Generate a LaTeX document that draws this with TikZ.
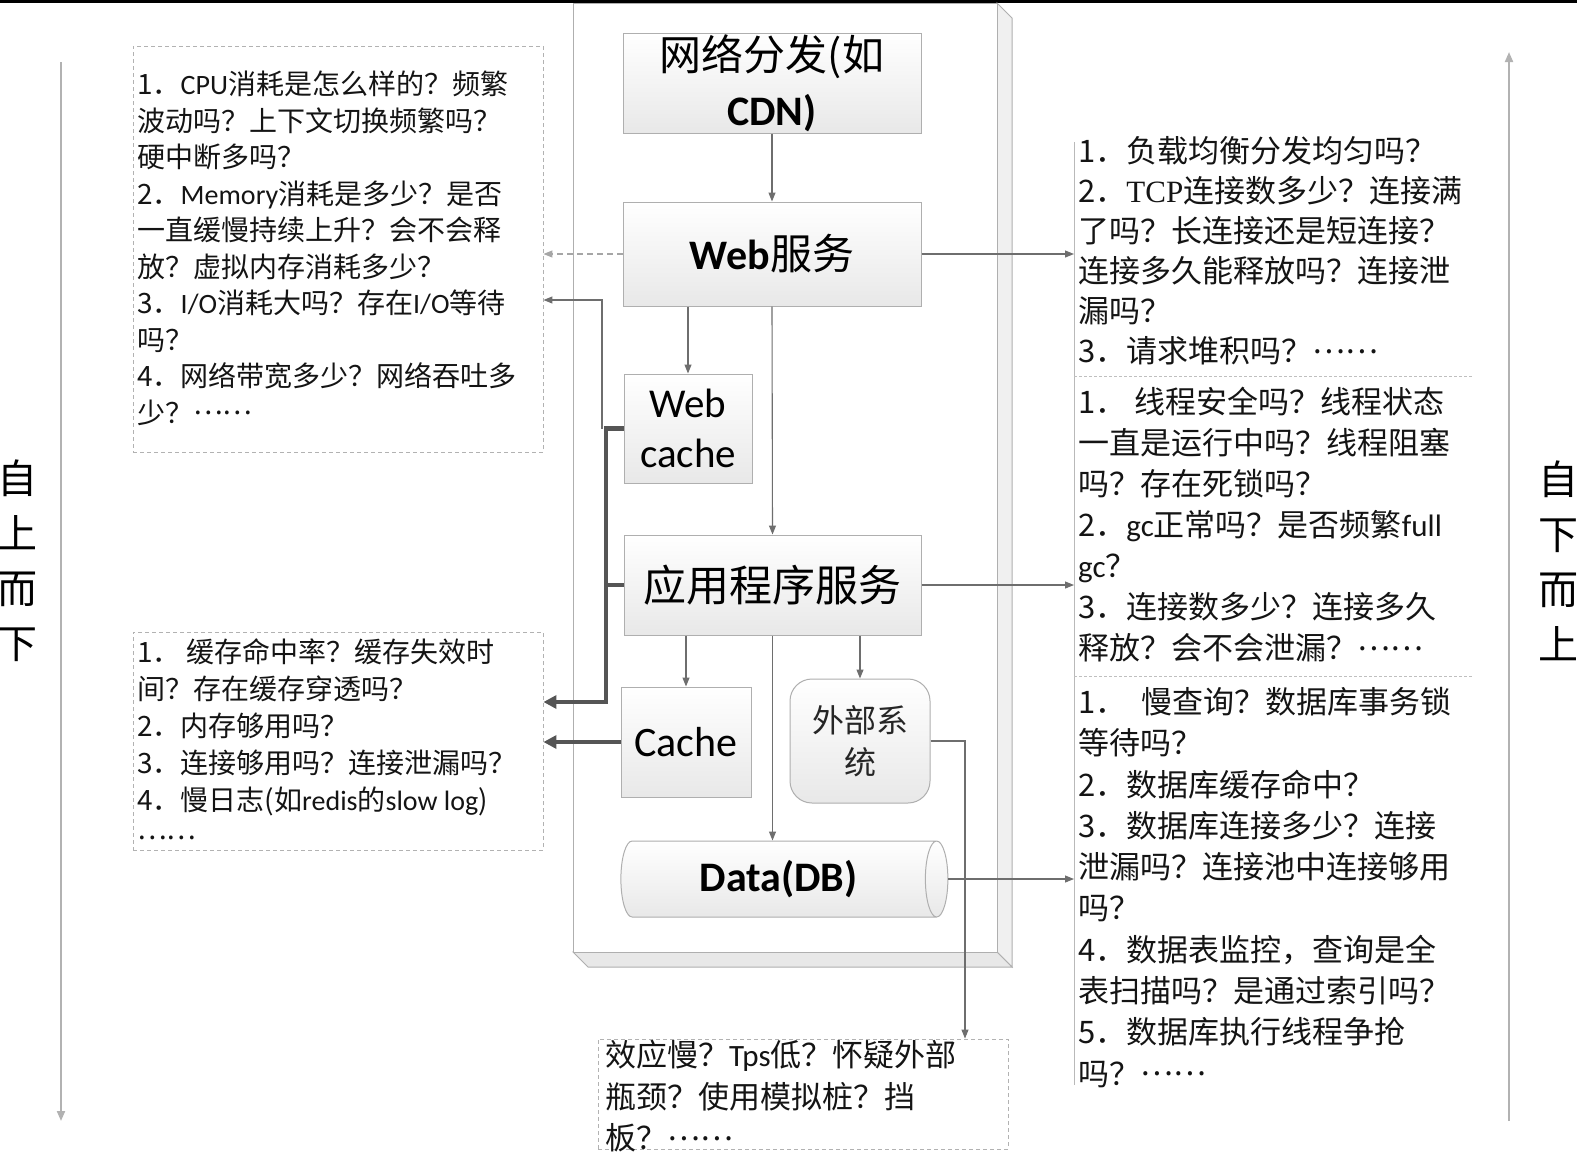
\documentclass[tikz,border=0pt]{standalone}
\usepackage{fontspec}
\setmainfont{Noto Sans CJK SC}
\newfontfamily\lat{Carlito}
\newfontfamily\serifl{Liberation Serif}
\usetikzlibrary{arrows.meta,shapes.geometric,calc}
\definecolor{conn}{RGB}{110,110,110}
\definecolor{bord}{RGB}{175,175,175}
\definecolor{heavyc}{RGB}{85,85,85}
\definecolor{txt}{RGB}{20,20,20}
\newcommand\ellip{\raisebox{0.3em}{……}}
\begin{document}
\begin{tikzpicture}[x=1pt,y=-1pt,
  box/.style={draw=bord, line width=1pt, top color=white, bottom color=gray!18, align=center, inner sep=0pt, text=black},
  link/.style={draw=conn, line width=1.1pt, -{Triangle[length=9pt,width=7pt]}},
  heavy/.style={draw=heavyc, line width=4.5pt, -{Triangle[length=13pt,width=13pt]}},
  note/.style={draw=gray!60, line width=0.9pt, dash pattern=on 4pt off 3pt, inner sep=0pt},
  notetext/.style={anchor=north west, align=left, inner sep=0pt, text=txt},
  sepline/.style={draw=gray!50, line width=0.9pt, dash pattern=on 3pt off 2pt},
  axisline/.style={draw=gray!60, line width=2pt},
  vlabel/.style={align=center, inner sep=0pt, font=\fontsize{40}{55}\selectfont}
]
\useasboundingbox (0,0) rectangle (1577,1152);
\fill[black] (0,0) rectangle (1577,3);

% 3D frame
\filldraw[fill=gray!12, draw=bord, line width=1pt] (997,3) -- (1012,18) -- (1012,967) -- (997,952) -- cycle;
\filldraw[fill=gray!18, draw=bord, line width=1pt] (573,952) -- (997,952) -- (1012,967) -- (588,967) -- cycle;
\filldraw[fill=white, draw=bord, line width=1pt] (573,3) rectangle (997,952);

% main nodes
\node[box, minimum width=298pt, minimum height=100pt, font=\fontsize{42}{55}\selectfont] (cdn) at (772,83) {网络分发(如\\{\lat\bfseries CDN)}};
\node[box, minimum width=298pt, minimum height=104pt, font=\fontsize{42}{50}\selectfont] (web) at (772,254) {{\lat\bfseries Web}服务};
\node[box, minimum width=128pt, minimum height=109pt, font=\lat\fontsize{41}{50}\selectfont] (wcache) at (688,428.5) {Web\\cache};
\node[box, minimum width=297pt, minimum height=100pt, font=\fontsize{43}{50}\selectfont] (app) at (772.5,585) {应用程序服务};
\node[box, minimum width=130pt, minimum height=110pt, font=\lat\fontsize{42}{50}\selectfont] (cache) at (686,742) {Cache};
\node[box, rounded corners=22pt, minimum width=140pt, minimum height=124pt, font=\fontsize{32}{42}\selectfont, text=gray!30!black] (ext) at (860,741) {外部系\\统};
\node[box, shape=cylinder, aspect=0.6, minimum width=76pt, minimum height=327pt, font=\lat\bfseries\fontsize{42}{50}\selectfont] (data) at (778.5,879) {Data(DB)};

% vertical arrows
\draw[link] (cdn.south) -- (web.north);
\draw[link] (wcache.north |- web.south) -- (wcache.north);
\draw[link] (web.south) -- (app.north);
\draw[link] (cache.north |- app.south) -- (cache.north);
\draw[link] (app.south) -- (app.south |- data.north);
\draw[link] (ext.north |- app.south) -- (ext.north);

% side axes
\coordinate (lt) at (61,62);
\coordinate (lb) at (61,1121);
\coordinate (rt) at (1509,52);
\coordinate (rb) at (1509,1121);
\draw[axisline, -{Triangle[length=10pt,width=8pt]}] (lt) -- (lb);
\draw[axisline, -{Triangle[length=10pt,width=8pt]}] (rb) -- (rt);
\node[vlabel] (td) at (18,561) {自\\上\\而\\下};
\node[vlabel] (bu) at (1558,561) {自\\下\\而\\上};

% left notes
\node[note, minimum width=410pt, minimum height=406pt] (leftA) at (338,249) {};
\node[notetext, font=\fontsize{28}{36.5}\selectfont] (leftAt) at (137,71) {1．{\lat CPU}消耗是怎么样的？频繁\\
波动吗？上下文切换频繁吗？\\
硬中断多吗？\\
2．{\lat Memory}消耗是多少？是否\\
一直缓慢持续上升？会不会释\\
放？虚拟内存消耗多少？\\
3．{\lat I/O}消耗大吗？存在{\lat I/O}等待\\
吗？\\
4．网络带宽多少？网络吞吐多\\
少？\ellip};

\node[note, minimum width=410pt, minimum height=218pt] (leftB) at (338,741) {};
\node[notetext, font=\fontsize{28}{37.2}\selectfont] (leftBt) at (137,638) {1．\hspace{6pt}缓存命中率？缓存失效时\\
间？存在缓存穿透吗？\\
2．内存够用吗？\\
3．连接够用吗？连接泄漏吗？\\
4．慢日志(如{\lat redis}的{\lat slow log})\\
\ellip};

% bottom note
\node[note, minimum width=410pt, minimum height=110pt] (bot) at (803,1094) {};
\node[notetext, font=\fontsize{31}{41.5}\selectfont] (bott) at (605,1040) {效应慢？{\lat Tps}低？怀疑外部\\
瓶颈？使用模拟桩？挡\\
板？\ellip};

% right notes
\coordinate (r1) at (1074,142);
\coordinate (r2) at (1074,1085);
\draw[draw=gray!55, line width=1pt] (r1) -- (r2);
\coordinate (s1) at (1074,376);
\coordinate (s2) at (1074,676);
\draw[sepline] (s1) -- ++(399,0);
\draw[sepline] (s2) -- ++(399,0);
\node[notetext, font=\fontsize{31}{40}\selectfont] (rA) at (1078,136) {1．负载均衡分发均匀吗？\\
2．{\serifl TCP}连接数多少？连接满\\
了吗？长连接还是短连接？\\
连接多久能释放吗？连接泄\\
漏吗？\\
3．请求堆积吗？\ellip};
\node[notetext, font=\fontsize{31}{41}\selectfont] (rB) at (1078,387) {1．\hspace{8pt}线程安全吗？线程状态\\
一直是运行中吗？线程阻塞\\
吗？存在死锁吗？\\
2．{\lat gc}正常吗？是否频繁{\lat full}\\
{\lat gc}？\\
3．连接数多少？连接多久\\
释放？会不会泄漏？\ellip};
\node[notetext, font=\fontsize{31}{41.3}\selectfont] (rC) at (1078,687) {1．\hspace{15pt}慢查询？数据库事务锁\\
等待吗？\\
2．数据库缓存命中？\\
3．数据库连接多少？连接\\
泄漏吗？连接池中连接够用\\
吗？\\
4．数据表监控，查询是全\\
表扫描吗？是通过索引吗？\\
5．数据库执行线程争抢\\
吗？\ellip};

% connectors to the notes
\draw[link] (web.east) -- (web.east -| r1);
\draw[link] (app.east) -- (app.east -| r1);
\draw[link] (data.east) -- (data.east -| r1);
\draw[link, dash pattern=on 6pt off 4pt, draw=gray!70] (web.west) -- (web.west -| leftA.east);
\coordinate (j1) at (602,300);
\coordinate (j2) at (602,428.5);
\draw[link] (j2) -- (j1) -- (j1 -| leftA.east);
\coordinate (k2) at (606,702);
\draw[heavy] (wcache.west) -- (wcache.west -| k2) -- (k2) -- (k2 -| leftB.east);
\draw[draw=heavyc, line width=4.5pt] (app.west) -- (app.west -| k2);
\draw[heavy] (cache.west) -- (cache.west -| leftB.east);
\coordinate (e1) at (965,0);
\draw[link] (ext.east) -- (ext.east -| e1) -- (e1 |- bot.north);
\end{tikzpicture}
\end{document}
